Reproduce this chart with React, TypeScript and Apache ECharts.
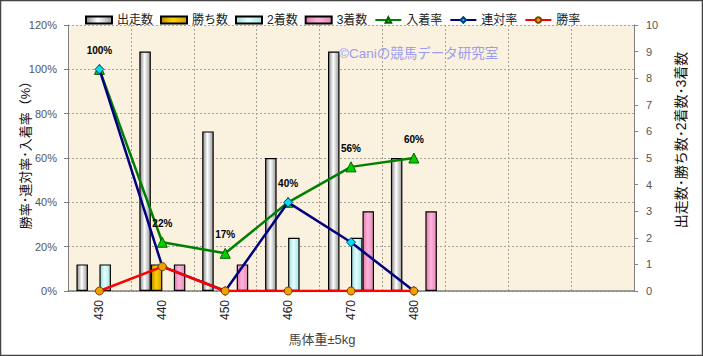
import React, { useEffect, useRef } from 'react';
import * as echarts from 'echarts';

const categories = ['430', '440', '450', '460', '470', '480'];
const emptySlots = [' ', '  ', '   '];
const starts = [1, 9, 6, 5, 9, 5];
const wins = [0, 1, 0, 0, 0, 0];
const seconds = [1, 0, 0, 2, 2, 0];
const thirds = [0, 1, 1, 0, 3, 3];
const placeRate = [100, 22, 17, 40, 56, 60];
const quinellaRate = [100, 11, 0, 40, 22, 0];
const winRate = [0, 11, 0, 0, 0, 0];

const FONT = "'Liberation Sans', 'Noto Sans CJK JP', sans-serif";

const grad = (a: string, b: string, c: string) =>
  new echarts.graphic.LinearGradient(0, 0, 1, 0, [
    { offset: 0, color: a },
    { offset: 0.45, color: b },
    { offset: 1, color: c },
  ]);

const barData = (arr: number[]) => arr.map((v) => (v === 0 ? '-' : v));

export default function App() {
  const ref = useRef<HTMLDivElement>(null);
  useEffect(() => {
    if (!ref.current) return;
    const chart = echarts.init(ref.current, undefined, { renderer: 'svg' });
    const barCommon = {
      type: 'bar',
      yAxisIndex: 1,
      barWidth: 11.5,
      barGap: '0%',
      z: 2,
    };
    const grid = { color: '#a8a29a', type: [2, 2] as number[], width: 1 };
    chart.setOption({
      animation: false,
      backgroundColor: '#ffffff',
      textStyle: { fontFamily: FONT },
      legend: {
        left: 80,
        top: 9,
        itemWidth: 26,
        itemHeight: 7,
        itemGap: 7,
        textStyle: { fontSize: 12, color: '#222', fontFamily: FONT },
        data: [
          { name: '出走数', icon: 'rect' },
          { name: '勝ち数', icon: 'rect' },
          { name: '2着数', icon: 'rect' },
          { name: '3着数', icon: 'rect' },
          { name: '入着率' },
          { name: '連対率' },
          { name: '勝率' },
        ],
      },
      grid: {
        left: 68,
        right: 69,
        top: 25,
        bottom: 65,
        show: true,
        backgroundColor: '#FBF1DF',
        borderWidth: 0,
      },
      xAxis: {
        type: 'category',
        data: [...categories, ...emptySlots],
        boundaryGap: true,
        axisLine: { lineStyle: { color: '#808080', width: 1.5 } },
        axisTick: { show: false },
        axisLabel: { rotate: 90, fontSize: 12, color: '#222', margin: 9, fontFamily: FONT },
        splitLine: { show: true, lineStyle: grid },
      },
      yAxis: [
        {
          type: 'value',
          min: 0,
          max: 120,
          interval: 20,
          axisLine: { show: true, lineStyle: { color: '#808080', width: 1 } },
          axisTick: { show: true, length: 4, lineStyle: { color: '#808080' } },
          axisLabel: { formatter: '{value}%', fontSize: 11, color: '#555', margin: 11, fontFamily: FONT },
          splitLine: { show: true, lineStyle: grid },
        },
        {
          type: 'value',
          min: 0,
          max: 10,
          interval: 1,
          position: 'right',
          axisLine: { show: true, lineStyle: { color: '#808080', width: 1 } },
          axisTick: { show: true, length: 4, lineStyle: { color: '#808080' } },
          axisLabel: { fontSize: 11, color: '#555', margin: 12, fontFamily: FONT },
          splitLine: { show: false },
        },
      ],
      graphic: [
        {
          type: 'rect',
          shape: { x: 0.5, y: 0.5, width: 702, height: 355 },
          style: { fill: 'none', stroke: '#444', lineWidth: 1.5 },
          silent: true,
          z: 100,
        },
        {
          type: 'text',
          x: 25,
          y: 152,
          rotation: Math.PI / 2,
          style: {
            text: '勝率･連対率･入着率（%）',
            fill: '#111',
            fontSize: 13,
            fontFamily: FONT,
            textAlign: 'center',
            textVerticalAlign: 'middle',
          },
        },
        {
          type: 'text',
          x: 681,
          y: 140,
          rotation: Math.PI / 2,
          style: {
            text: '出走数･勝ち数･2着数･3着数',
            fill: '#111',
            fontSize: 14,
            fontFamily: FONT,
            textAlign: 'center',
            textVerticalAlign: 'middle',
          },
        },
        {
          type: 'text',
          x: 322,
          y: 339,
          style: {
            text: '馬体重±5kg',
            fill: '#444',
            fontSize: 13,
            fontFamily: FONT,
            textAlign: 'center',
            textVerticalAlign: 'middle',
          },
        },
        {
          type: 'text',
          x: 339,
          y: 53,
          style: {
            text: '©Caniの競馬データ研究室',
            fill: '#9C9CF0',
            fontSize: 13.5,
            fontFamily: FONT,
            textAlign: 'left',
            textVerticalAlign: 'middle',
          },
          z: 50,
        },
      ],
      series: [
        {
          ...barCommon,
          name: '出走数',
          data: barData(starts),
          itemStyle: { color: grad('#8a8a8a', '#ffffff', '#9a9a9a'), borderColor: '#000', borderWidth: 1.2 },
        },
        {
          ...barCommon,
          name: '勝ち数',
          data: barData(wins),
          itemStyle: { color: grad('#c09000', '#ffd000', '#d0a000'), borderColor: '#000', borderWidth: 1.2 },
        },
        {
          ...barCommon,
          name: '2着数',
          data: barData(seconds),
          itemStyle: { color: grad('#9adada', '#e4ffff', '#a8e4e4'), borderColor: '#000', borderWidth: 1.2 },
        },
        {
          ...barCommon,
          name: '3着数',
          data: barData(thirds),
          itemStyle: { color: grad('#e07aae', '#ffb4da', '#e48cbc'), borderColor: '#000', borderWidth: 1.2 },
        },
        {
          type: 'line',
          name: '入着率',
          yAxisIndex: 0,
          data: placeRate,
          symbol: 'triangle',
          symbolSize: 10,
          z: 5,
          lineStyle: { color: '#008000', width: 2.5 },
          itemStyle: { color: '#00d000', borderColor: '#006000', borderWidth: 1 },
          label: {
            show: true,
            position: 'top',
            distance: 8,
            formatter: '{c}%',
            fontSize: 10,
            fontWeight: 'bold',
            color: '#000',
            fontFamily: FONT,
          },
        },
        {
          type: 'line',
          name: '連対率',
          yAxisIndex: 0,
          data: quinellaRate,
          symbol: 'diamond',
          symbolSize: 9,
          z: 6,
          lineStyle: { color: '#000080', width: 2.5 },
          itemStyle: { color: '#00e0f0', borderColor: '#004080', borderWidth: 1 },
        },
        {
          type: 'line',
          name: '勝率',
          yAxisIndex: 0,
          data: winRate,
          symbol: 'circle',
          symbolSize: 8,
          z: 7,
          lineStyle: { color: '#ff0000', width: 2.5 },
          itemStyle: { color: '#f0a000', borderColor: '#804000', borderWidth: 1 },
        },
      ],
    });
    return () => chart.dispose();
  }, []);
  return (
    <div
      ref={ref}
      style={{ position: 'absolute', left: 0, top: 0, width: 703, height: 356 }}
    />
  );
}
